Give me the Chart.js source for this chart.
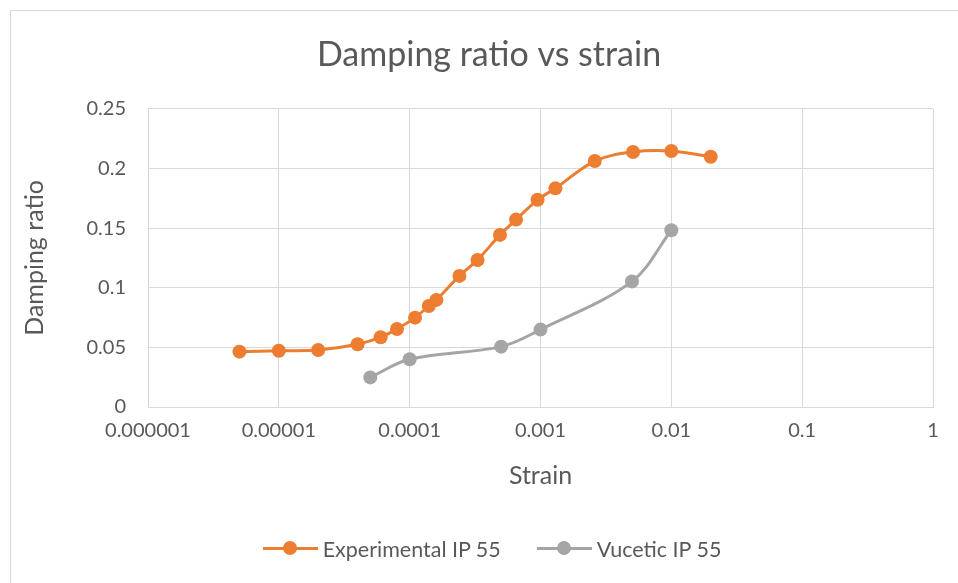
<!DOCTYPE html>
<html>
<head>
    <title>Damping ratio vs strain</title>
    <script src="https://cdn.jsdelivr.net/npm/chart.js@4.4.0/dist/chart.umd.min.js"></script>
    <style>
        body {
            margin: 0;
            background-color: white;
            font-family: Lato, "Open Sans", sans-serif;
        }
        .frame {
            position: absolute;
            left: 10px;
            top: 10px;
            width: 960px;
            height: 590px;
            border-left: 1px solid #d9d9d9;
            border-top: 1px solid #d9d9d9;
        }
        .chart-box {
            position: absolute;
            left: 0;
            top: 0;
            width: 958px;
            height: 583px;
        }
        .legend {
            position: absolute;
            top: 536px;
            left: 13px;
            width: 958px;
            text-align: center;
            font-size: 21.5px;
            color: #595959;
        }
        .legend-item {
            display: inline-flex;
            align-items: center;
            margin: 0 18px;
        }
        .legend-mark {
            position: relative;
            width: 55px;
            height: 24px;
            margin-right: 5px;
        }
        .legend-mark .ln {
            position: absolute;
            left: 0;
            right: 0;
            top: 10px;
            height: 3px;
        }
        .legend-mark .dot {
            position: absolute;
            left: 20px;
            top: 4px;
            width: 14px;
            height: 14px;
            border-radius: 50%;
        }
    </style>
</head>
<body>
    <div class="frame"></div>
    <div class="chart-box">
        <canvas id="dampingChart" width="958" height="583"></canvas>
    </div>
    <div class="legend" id="legend"></div>

    <script>
        // 读图得到的数据
        const seriesNames = ['Experimental IP 55', 'Vucetic IP 55'];
        const seriesColors = ['#ed7d31', '#a5a5a5'];

        const expStrain = [5e-6, 1e-5, 2e-5, 4e-5, 6e-5, 8e-5, 1.1e-4, 1.4e-4, 1.6e-4, 2.4e-4,
                           3.3e-4, 4.9e-4, 6.5e-4, 9.5e-4, 1.3e-3, 2.6e-3, 5.1e-3, 1e-2, 2e-2];
        const expDamping = [0.0464, 0.0472, 0.0478, 0.0526, 0.0585, 0.0654, 0.0749, 0.0847, 0.0898, 0.1099,
                            0.1233, 0.1443, 0.1571, 0.1737, 0.1833, 0.2062, 0.2138, 0.2146, 0.2098];

        const vucStrain = [5e-5, 1e-4, 5e-4, 1e-3, 5e-3, 1e-2];
        const vucDamping = [0.0248, 0.0400, 0.0506, 0.0649, 0.1053, 0.1482];

        const xTickValues = [1e-6, 1e-5, 1e-4, 1e-3, 1e-2, 1e-1, 1];
        const xTickLabels = ['0.000001', '0.00001', '0.0001', '0.001', '0.01', '0.1', '1'];
        const yTickLabels = ['0', '0.05', '0.1', '0.15', '0.2', '0.25'];

        const textColor = '#595959';
        const gridColor = '#d9d9d9';

        function toPoints(xs, ys) {
            return xs.map((x, i) => ({ x: x, y: ys[i] }));
        }

        function buildLegend() {
            const box = document.getElementById('legend');
            seriesNames.forEach((name, i) => {
                const item = document.createElement('span');
                item.className = 'legend-item';
                item.innerHTML = `
                    <span class="legend-mark">
                        <span class="ln" style="background:${seriesColors[i]}"></span>
                        <span class="dot" style="background:${seriesColors[i]}"></span>
                    </span>
                    <span>${name}</span>`;
                box.appendChild(item);
            });
        }

        function createChart() {
            const ctx = document.getElementById('dampingChart').getContext('2d');
            const datasets = [
                toPoints(expStrain, expDamping),
                toPoints(vucStrain, vucDamping)
            ].map((pts, i) => ({
                label: seriesNames[i],
                data: pts,
                borderColor: seriesColors[i],
                backgroundColor: seriesColors[i],
                borderWidth: 3,
                pointRadius: 7,
                pointBorderWidth: 0,
                tension: 0.35
            }));

            new Chart(ctx, {
                type: 'line',
                data: { datasets: datasets },
                options: {
                    responsive: false,
                    animation: false,
                    layout: {
                        // left padding shifts the title centre to match the original
                        padding: { left: 45, top: 10, right: 25, bottom: 92 }
                    },
                    plugins: {
                        legend: { display: false },
                        tooltip: { enabled: false },
                        title: {
                            display: true,
                            text: 'Damping ratio vs strain',
                            color: textColor,
                            font: { family: 'Lato', size: 34, weight: 'normal' },
                            padding: { top: 25, bottom: 33 }
                        }
                    },
                    scales: {
                        x: {
                            type: 'logarithmic',
                            min: 1e-6,
                            max: 1,
                            afterBuildTicks: function (scale) {
                                scale.ticks = xTickValues.map(v => ({ value: v }));
                            },
                            afterFit: function (scale) {
                                scale.height = 84;
                            },
                            grid: { color: gridColor, drawTicks: false },
                            border: { color: gridColor },
                            ticks: {
                                color: textColor,
                                font: { family: 'Lato', size: 20 },
                                padding: 12,
                                maxRotation: 0,
                                autoSkip: false,
                                callback: function (value, index) {
                                    return xTickLabels[index];
                                }
                            },
                            title: {
                                display: true,
                                text: 'Strain',
                                color: textColor,
                                font: { family: 'Lato', size: 25 },
                                padding: 0
                            }
                        },
                        y: {
                            min: 0,
                            max: 0.25,
                            afterFit: function (scale) {
                                scale.width = 103;
                            },
                            grid: { color: gridColor, drawTicks: false },
                            border: { display: false },
                            ticks: {
                                stepSize: 0.05,
                                color: textColor,
                                font: { family: 'Lato', size: 20 },
                                padding: 22,
                                callback: function (value, index) {
                                    return yTickLabels[index];
                                }
                            },
                            title: {
                                display: true,
                                text: 'Damping ratio',
                                color: textColor,
                                font: { family: 'Lato', size: 25 },
                                padding: { top: -25, bottom: 0 }
                            }
                        }
                    }
                }
            });
        }

        buildLegend();
        createChart();
    </script>
</body>
</html>
